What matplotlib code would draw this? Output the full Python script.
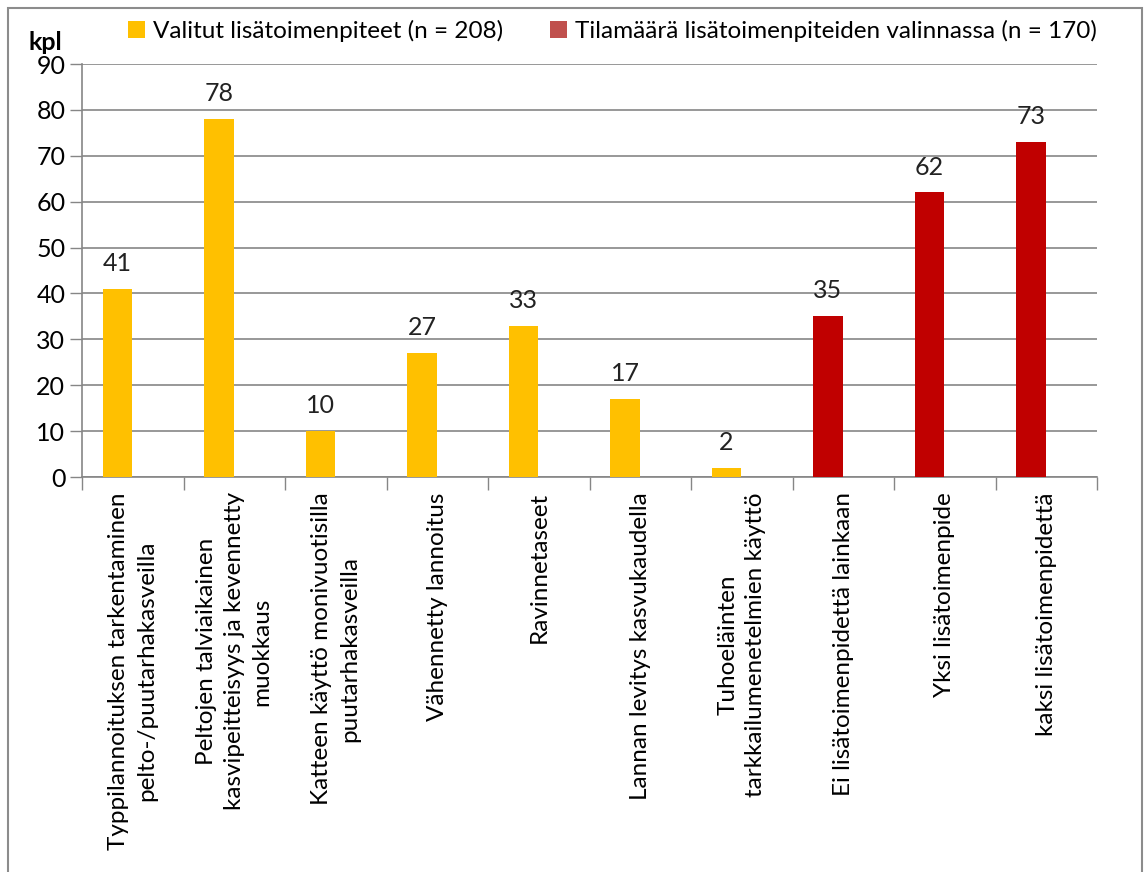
import matplotlib
matplotlib.use('Agg')
import matplotlib.pyplot as plt
from matplotlib.patches import Patch, Rectangle
import numpy as np

plt.rcParams['font.family'] = ['Lato', 'DejaVu Sans']

# data
categories = [
    'Typpilannoituksen tarkentaminen\npelto-/puutarhakasveilla',
    'Peltojen talviaikainen\nkasvipeitteisyys ja kevennetty\nmuokkaus',
    'Katteen käyttö monivuotisilla\npuutarhakasveilla',
    'Vähennetty lannoitus',
    'Ravinnetaseet',
    'Lannan levitys kasvukaudella',
    'Tuhoeläinten\ntarkkailumenetelmien käyttö',
    'Ei lisätoimenpidettä lainkaan',
    'Yksi lisätoimenpide',
    'kaksi lisätoimenpidettä',
]
values = [41, 78, 10, 27, 33, 17, 2, 35, 62, 73]
series_idx = [0, 0, 0, 0, 0, 0, 0, 1, 1, 1]
series_names = ['Valitut lisätoimenpiteet (n = 208)',
                'Tilamäärä lisätoimenpiteiden valinnassa (n = 170)']

bar_colors = ['#FFC000', '#C00000']
legend_colors = ['#FFC000', '#C0504D']
grey = '#868686'
fs = 17.5

W, H = 1144, 872
fig = plt.figure(figsize=(W / 100, H / 100), dpi=100)
ax = fig.add_axes([82 / W, 1 - 477 / H, (1097 - 82) / W, (477 - 64) / H])

x = np.arange(len(values)) + 0.5
ax.bar(x - 0.15, values, width=0.29,
       color=[bar_colors[s] for s in series_idx], zorder=3)
for xi, v in zip(x, values):
    ax.annotate(str(v), (xi - 0.15, v), xytext=(0, 10), textcoords='offset points',
                ha='center', va='bottom', fontsize=18, color='#222222')

ax.set_xlim(0, len(values))
ax.set_ylim(0, 90)
ax.set_yticks(np.arange(0, 91, 10))
ax.yaxis.grid(True, color=grey, linewidth=1.2, zorder=0)
ax.tick_params(axis='y', length=9, width=1, color=grey, labelsize=18, pad=3)

ax.set_xticks(x)
ax.set_xticklabels(categories, rotation=90, ha='center', va='top',
                   multialignment='center', fontsize=fs, linespacing=1.4)
ax.set_xticks(np.arange(0, len(values) + 1), minor=True)
ax.tick_params(axis='x', which='major', length=0, pad=11)
ax.tick_params(axis='x', which='minor', length=9, width=1, color=grey)

for s in ['top', 'right']:
    ax.spines[s].set_visible(False)
for s in ['left', 'bottom']:
    ax.spines[s].set_color(grey)
    ax.spines[s].set_linewidth(1.2)

fig.text(28 / W, 1 - 42 / H, 'kpl', fontsize=18, fontweight='bold', va='center')

handles = [Patch(facecolor=c, edgecolor='none') for c in legend_colors]
fig.legend(handles, series_names, loc='center left', ncol=2,
           bbox_to_anchor=(118 / W, 1 - 31 / H), frameon=False, fontsize=fs,
           handlelength=0.7, handleheight=0.7, handletextpad=0.35,
           columnspacing=1.9, borderaxespad=0)

fig.patches.append(Rectangle((8 / W, -0.01), (1142 - 8) / W, 1.01 - 8 / H,
                             transform=fig.transFigure, fill=False,
                             edgecolor='#8c8c8c', linewidth=1.5))

fig.savefig('out.png', dpi=100)
